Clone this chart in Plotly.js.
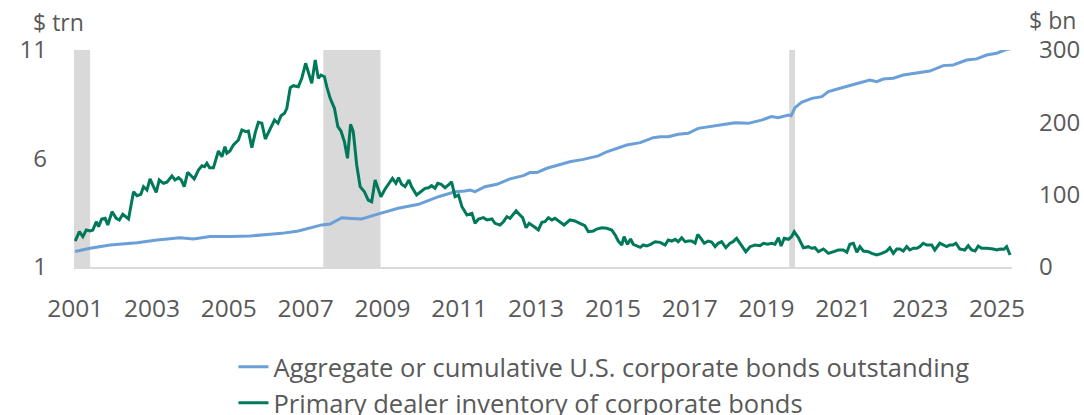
<!DOCTYPE html>
<html>
<head>
<meta charset="utf-8">
<script src="https://cdn.plot.ly/plotly-3.0.1.min.js"></script>
<style>html,body{margin:0;padding:0;background:#fff;}#chart{width:1084px;height:415px;}</style>
</head>
<body>
<div id="chart"></div>
<script>
// Aggregate U.S. corporate bonds outstanding ($ trn, left axis)
const bondsYear = [2001.00,2001.39,2001.91,2002.61,2003.13,2003.73,2004.08,2004.51,2005.03,2005.55,2006.08,2006.38,2006.81,2007.07,2007.42,2007.64,2007.94,2008.20,2008.46,2008.81,2009.41,2009.94,2010.46,2010.89,2011.15,2011.28,2011.41,2011.67,2011.98,2012.32,2012.67,2012.84,2013.02,2013.28,2013.62,2013.88,2014.23,2014.49,2014.62,2014.84,2015.19,2015.36,2015.71,2016.05,2016.23,2016.44,2016.70,2016.96,2017.22,2017.57,2017.92,2018.18,2018.52,2018.87,2019.13,2019.30,2019.57,2019.64,2019.74,2019.91,2020.18,2020.44,2020.61,2020.96,2021.17,2021.43,2021.69,2021.87,2022.04,2022.30,2022.56,2022.82,2023.25,2023.60,2023.86,2024.21,2024.47,2024.73,2024.99,2025.25,2025.34];
const bondsOutstanding = [1.71,1.86,2.01,2.12,2.24,2.35,2.29,2.40,2.40,2.43,2.51,2.55,2.66,2.78,2.94,2.98,3.27,3.24,3.21,3.40,3.71,3.89,4.24,4.47,4.50,4.55,4.47,4.70,4.81,5.06,5.21,5.35,5.35,5.55,5.70,5.85,5.96,6.08,6.12,6.31,6.50,6.62,6.73,6.96,7.00,7.00,7.12,7.16,7.39,7.47,7.58,7.65,7.62,7.77,7.93,7.88,8.00,7.97,8.34,8.59,8.77,8.85,9.08,9.26,9.35,9.49,9.62,9.54,9.66,9.70,9.85,9.93,10.03,10.28,10.31,10.54,10.59,10.77,10.85,11.03,11.05];

// Primary dealer inventory of corporate bonds ($ bn, right axis)
const dealerYear = [2001.00,2001.11,2001.20,2001.29,2001.39,2001.46,2001.55,2001.61,2001.69,2001.78,2001.85,2001.96,2002.07,2002.15,2002.24,2002.33,2002.39,2002.52,2002.61,2002.71,2002.78,2002.87,2002.95,2003.04,2003.11,2003.19,2003.30,2003.39,2003.52,2003.60,2003.69,2003.76,2003.84,2003.93,2004.01,2004.10,2004.21,2004.30,2004.37,2004.43,2004.50,2004.60,2004.73,2004.82,2004.90,2004.95,2005.03,2005.12,2005.25,2005.34,2005.45,2005.51,2005.60,2005.69,2005.77,2005.86,2005.95,2006.03,2006.12,2006.19,2006.28,2006.36,2006.45,2006.51,2006.60,2006.68,2006.81,2006.90,2007.00,2007.09,2007.16,2007.25,2007.33,2007.40,2007.49,2007.55,2007.64,2007.75,2007.84,2007.92,2008.01,2008.09,2008.17,2008.24,2008.33,2008.42,2008.53,2008.63,2008.72,2008.81,2008.89,2008.96,2009.07,2009.17,2009.26,2009.35,2009.42,2009.50,2009.59,2009.69,2009.76,2009.89,2010.02,2010.11,2010.20,2010.28,2010.37,2010.44,2010.53,2010.63,2010.72,2010.80,2010.89,2010.98,2011.07,2011.20,2011.33,2011.41,2011.50,2011.63,2011.72,2011.85,2011.93,2012.06,2012.15,2012.24,2012.32,2012.48,2012.58,2012.65,2012.74,2012.82,2012.95,2013.06,2013.15,2013.23,2013.32,2013.41,2013.49,2013.62,2013.73,2013.88,2014.01,2014.14,2014.27,2014.36,2014.49,2014.58,2014.71,2014.84,2014.97,2015.06,2015.14,2015.23,2015.29,2015.38,2015.46,2015.53,2015.62,2015.71,2015.79,2015.88,2015.98,2016.10,2016.23,2016.36,2016.44,2016.53,2016.62,2016.70,2016.79,2016.88,2016.96,2017.05,2017.14,2017.21,2017.29,2017.38,2017.48,2017.57,2017.66,2017.74,2017.83,2017.94,2018.05,2018.13,2018.22,2018.28,2018.37,2018.46,2018.57,2018.70,2018.83,2018.92,2019.03,2019.13,2019.22,2019.31,2019.38,2019.46,2019.57,2019.65,2019.72,2019.83,2019.96,2020.09,2020.17,2020.26,2020.35,2020.48,2020.61,2020.74,2020.87,2021.00,2021.09,2021.17,2021.26,2021.35,2021.43,2021.52,2021.65,2021.74,2021.87,2022.00,2022.13,2022.21,2022.30,2022.39,2022.47,2022.56,2022.65,2022.73,2022.82,2022.91,2022.99,2023.08,2023.17,2023.30,2023.38,2023.51,2023.60,2023.69,2023.77,2023.85,2023.93,2024.03,2024.16,2024.25,2024.34,2024.43,2024.51,2024.60,2024.73,2024.82,2024.90,2024.99,2025.08,2025.18,2025.25,2025.34];
const dealerInventory = [35.9,48.8,41.9,51.2,49.8,51.0,62.6,55.7,66.4,67.3,58.1,76.5,67.3,65.0,72.9,69.5,66.4,104.1,98.6,100.5,111.0,106.5,121.7,111.0,103.3,120.3,115.7,117.1,125.8,120.3,123.5,120.3,111.0,130.9,126.2,121.7,134.1,140.0,138.7,143.4,137.3,137.3,160.4,152.5,166.3,157.2,160.4,168.7,175.6,189.4,187.1,188.0,164.9,186.2,200.1,198.7,177.0,186.2,196.3,203.2,198.7,209.2,212.5,219.4,247.9,250.7,249.3,260.9,281.6,267.8,254.0,286.2,260.9,265.4,263.1,249.3,233.2,219.4,194.0,188.0,173.2,150.3,197.3,187.1,141.0,111.0,104.1,92.6,90.3,120.3,106.5,97.2,107.8,115.7,122.6,115.7,123.5,114.3,111.0,120.3,111.0,99.5,105.1,108.8,109.6,112.4,108.8,115.7,114.3,109.6,113.4,117.9,97.2,99.5,83.4,71.9,74.2,60.4,66.4,68.2,65.0,66.4,60.4,58.1,62.6,69.5,67.3,77.8,71.9,68.2,54.3,60.4,55.7,51.2,61.8,62.6,68.2,65.0,67.3,62.6,58.1,65.0,63.6,60.4,57.1,48.8,49.8,52.5,54.3,53.5,51.2,44.2,35.9,30.4,41.9,31.4,38.7,31.4,29.4,27.2,30.4,29.0,31.4,35.0,34.1,30.4,37.3,35.9,38.3,35.0,40.5,35.0,35.9,35.9,32.8,45.2,39.7,32.8,35.9,34.6,28.1,32.8,35.0,26.7,32.8,35.0,39.7,35.0,28.1,21.2,28.1,30.4,29.4,32.8,31.4,32.8,31.4,40.5,29.0,39.7,38.3,41.9,48.8,40.5,26.7,28.1,25.9,26.7,21.2,24.9,18.9,21.2,23.5,23.5,20.3,31.4,32.8,20.3,28.1,22.1,21.2,18.9,16.6,18.9,22.1,26.7,18.9,24.9,24.9,22.1,28.1,23.5,25.9,25.9,28.1,32.8,30.4,30.4,23.5,32.8,30.4,28.1,30.4,30.4,32.8,24.9,23.5,29.4,23.5,22.1,29.0,25.9,25.9,25.9,24.9,23.5,24.9,24.5,28.1,16.6];

// Recession periods (shaded)
const recessionStart = [2000.97, 2007.46, 2019.59];
const recessionEnd   = [2001.39, 2008.95, 2019.74];

const tickYears = ['2001','2003','2005','2007','2009','2011','2013','2015','2017','2019','2021','2023','2025'];
const leftTicks = [1, 6, 11];
const rightTicks = [0, 100, 200, 300];

const seriesNames = ['Aggregate or cumulative U.S. corporate bonds outstanding', 'Primary dealer inventory of corporate bonds'];

const FONT = 'Open Sans, Segoe UI, sans-serif';
const GREY = '#595959';

const traces = [
  {x: bondsYear, y: bondsOutstanding, name: seriesNames[0], type: 'scatter', mode: 'lines',
   line: {color: '#6a9fd8', width: 3}, yaxis: 'y'},
  {x: dealerYear, y: dealerInventory, name: seriesNames[1], type: 'scatter', mode: 'lines',
   line: {color: '#00795b', width: 3}, yaxis: 'y2'}
];

const shapes = recessionStart.map((s, i) => ({
  type: 'rect', xref: 'x', yref: 'paper', x0: s, x1: recessionEnd[i], y0: 0, y1: 1,
  fillcolor: '#d9d9d9', line: {width: 0}, layer: 'below'
}));

const layout = {
  width: 1084, height: 415,
  margin: {l: 74, r: 72, t: 50, b: 148, autoexpand: false},
  paper_bgcolor: '#ffffff', plot_bgcolor: '#ffffff',
  font: {family: FONT, size: 24, color: GREY},
  showlegend: true,
  legend: {x: 0.17, xanchor: 'left', yref: 'container', y: 0.172, yanchor: 'top', orientation: 'v',
           font: {family: FONT, size: 25.5, color: GREY}, bgcolor: 'rgba(0,0,0,0)', tracegroupgap: 0},
  xaxis: {type: 'linear', range: [2000.97, 2025.39], tickmode: 'array', automargin: false,
          tickvals: tickYears.map(Number), ticktext: tickYears,
          showgrid: false, zeroline: false, showline: true, linecolor: '#d9d9d9', linewidth: 2,
          ticks: '', ticklabelstandoff: 19, tickfont: {size: 24.5, color: GREY}},
  yaxis: {range: [1, 11], tickvals: leftTicks, showgrid: false, zeroline: false, showline: false,
          automargin: false, ticks: '', ticklabelstandoff: 26, tickfont: {size: 24, color: GREY}},
  yaxis2: {range: [0, 300], tickvals: rightTicks, overlaying: 'y', side: 'right', showgrid: false,
           automargin: false, zeroline: false, showline: false, ticks: '', ticklabelstandoff: 26,
           tickfont: {size: 24, color: GREY}},
  shapes: shapes,
  annotations: [
    {text: '$ trn', xref: 'paper', yref: 'paper', x: -0.0165, y: 1.13, xanchor: 'center', yanchor: 'middle',
     showarrow: false, font: {family: FONT, size: 23, color: GREY}},
    {text: '$ bn', xref: 'paper', yref: 'paper', x: 1.043, y: 1.14, xanchor: 'center', yanchor: 'middle',
     showarrow: false, font: {family: FONT, size: 23, color: GREY}}
  ]
};

Plotly.newPlot('chart', traces, layout, {displayModeBar: false, staticPlot: true});
</script>
</body>
</html>
